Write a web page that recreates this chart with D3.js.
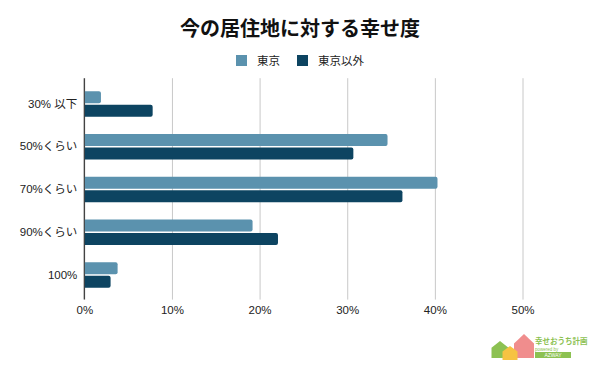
<!DOCTYPE html>
<html>
<head>
<meta charset="utf-8">
<script src="https://cdn.jsdelivr.net/npm/d3@7"></script>
<style>
  body { margin: 0; background: #fff; }
  text { font-family: "Liberation Sans", "Noto Sans CJK JP", sans-serif; }
</style>
</head>
<body>
<script>
// data
const categories = ["30% 以下", "50%くらい", "70%くらい", "90%くらい", "100%"];
const seriesNames = ["東京", "東京以外"];
const tokyo = [1.9, 34.6, 40.3, 19.2, 3.8];
const others = [7.8, 30.7, 36.3, 22.1, 3.0];
const xTicks = [0, 10, 20, 30, 40, 50];
const colors = ["#5b92ae", "#0d4461"];

const W = 600, H = 371;
const margin = { top: 82.6, bottom: 74.6, left: 84.3, right: 77.5 };
const width = W - margin.left - margin.right;
const height = H - margin.top - margin.bottom;

const svg = d3.select("body").append("svg")
  .attr("width", W).attr("height", H);

const rows = categories.map((c, i) => ({ cat: c, vals: [tokyo[i], others[i]] }));

// scales
const x = d3.scaleLinear().domain([0, 50]).range([0, width]);
const y = d3.scaleBand().domain(categories).range([0, height]).paddingInner(0.4).paddingOuter(0.2);
const ySub = d3.scaleBand().domain([0, 1]).range([0, y.bandwidth()]).paddingInner(0.1);

const g = svg.append("g").attr("transform", `translate(${margin.left},${margin.top})`);

// title
svg.append("text")
  .attr("x", W / 2).attr("y", 36)
  .attr("text-anchor", "middle")
  .attr("font-size", 20).attr("font-weight", "bold").attr("fill", "#111")
  .text("今の居住地に対する幸せ度");

// legend
const legend = svg.append("g").attr("transform", "translate(236,55)");
const legX = [0, 61];
seriesNames.forEach((s, i) => {
  legend.append("rect").attr("x", legX[i]).attr("y", 0)
    .attr("width", 11).attr("height", 11).attr("fill", colors[i]);
  legend.append("text").attr("x", legX[i] + 21).attr("y", 10)
    .attr("font-size", 11.5).attr("fill", "#222").text(s);
});

// grid
const xaxis = d3.axisBottom(x).tickValues(xTicks).tickFormat(d => d + "%")
  .tickSize(height + 7.6).tickPadding(6);
const gx = g.append("g").attr("transform", "translate(0,-4.4)").call(xaxis);
gx.select(".domain").remove();
gx.selectAll(".tick line").attr("stroke", "#c8c8c8");
gx.selectAll(".tick text").attr("font-size", 11.5).attr("fill", "#222")
  .attr("font-family", "'Liberation Sans', sans-serif");

// y axis
const yaxis = d3.axisLeft(y).tickSize(0).tickPadding(7);
const gy = g.append("g").call(yaxis);
gy.select(".domain").remove();
gy.selectAll(".tick text").attr("font-size", 11.5).attr("fill", "#222")
  .attr("font-family", "'Liberation Sans', 'Noto Sans CJK JP', sans-serif");
g.append("line")
  .attr("x1", x(0)).attr("x2", x(0))
  .attr("y1", -4.4).attr("y2", height + 3.2)
  .attr("stroke", "#333").attr("stroke-width", 1.2);

// bars
const grp = g.selectAll(".row").data(rows).join("g")
  .attr("class", "row")
  .attr("transform", d => `translate(0,${y(d.cat)})`);

grp.selectAll("path").data(d => d.vals.map((v, i) => ({ v, i }))).join("path")
  .attr("fill", d => colors[d.i])
  .attr("d", d => {
    const x0 = x(0) + 0.6, x1 = x(d.v), y0 = ySub(d.i), h = ySub.bandwidth(), r = 2;
    return `M${x0},${y0}H${x1 - r}Q${x1},${y0} ${x1},${y0 + r}V${y0 + h - r}Q${x1},${y0 + h} ${x1 - r},${y0 + h}H${x0}Z`;
  });

// logo
const logo = svg.append("g").attr("transform", "translate(488,334)");
const house = (cx, top, w, h, col) => {
  logo.append("path")
    .attr("d", `M${cx},${top}L${cx + w / 2},${top + h * 0.4}V${top + h}H${cx - w / 2}V${top + h * 0.4}Z`)
    .attr("fill", col);
};
house(12, 7, 17, 17, "#8cc152");
house(36, 0, 20, 24, "#f08d8d");
house(22, 12, 15, 14, "#f6c342");
logo.append("text").attr("x", 47).attr("y", 10).attr("font-size", 7.5)
  .attr("font-weight", "bold").attr("fill", "#8cc152").text("幸せおうち計画");
logo.append("text").attr("x", 47).attr("y", 16.5).attr("font-size", 4.5)
  .attr("fill", "#8cc152").text("powered by");
logo.append("rect").attr("x", 47).attr("y", 18).attr("width", 36).attr("height", 6)
  .attr("fill", "#8cc152");
logo.append("text").attr("x", 65).attr("y", 23).attr("font-size", 5)
  .attr("text-anchor", "middle").attr("fill", "#fff").text("AZWAY");
</script>
</body>
</html>
